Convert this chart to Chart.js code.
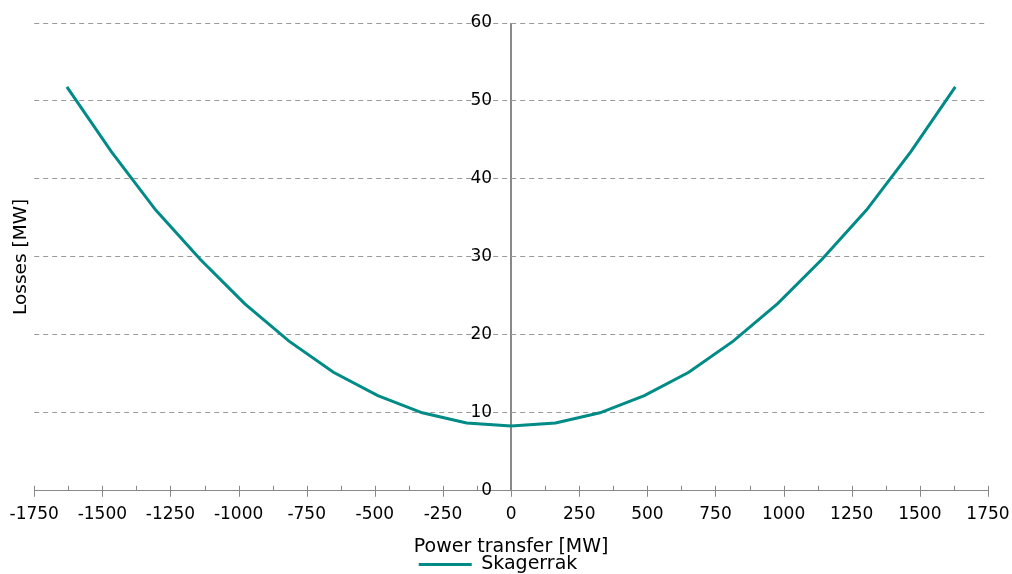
<!DOCTYPE html>
<html>
<head>
<meta charset="utf-8">
<script src="https://cdn.jsdelivr.net/npm/chart.js@4/dist/chart.umd.min.js"></script>
<style>
html,body{margin:0;padding:0;background:#fff;}
#wrap{width:1012px;height:574px;position:relative;}
</style>
</head>
<body>
<div id="wrap"><canvas id="c"></canvas></div>
<script>
// Data
const seriesName = 'Skagerrak';
const powerTransfer = [-1630, -1467, -1304, -1141, -978, -815, -652, -489, -326, -163, 0, 163, 326, 489, 652, 815, 978, 1141, 1304, 1467, 1630];
const losses = [51.8, 43.5, 36.0, 29.7, 24.0, 19.2, 15.2, 12.2, 10.0, 8.7, 8.3, 8.7, 10.0, 12.2, 15.2, 19.2, 24.0, 29.7, 36.0, 43.5, 51.8];
const xTicks = {min: -1750, max: 1750, step: 250, minorStep: 125};
const yTicks = {min: 0, max: 60, step: 10};
const xTitle = 'Power transfer [MW]';
const yTitle = 'Losses [MW]';

const FONT = "'DejaVu Sans', Verdana, sans-serif";
const TEAL = '#008b87';
const AXIS = '#898989';
const GRID = '#9a9a9a';

// Minor/major tick marks on the x axis, and y tick labels placed left of the
// central y axis (Chart.js ignores tick padding for axes positioned at a value).
const axisDecor = {
  id: 'axisDecor',
  afterDraw(chart) {
    const x = chart.scales.x, y = chart.scales.y;
    const ctx = chart.ctx;
    const yPix = y.getPixelForValue(0);
    const xPix = x.getPixelForValue(0);
    ctx.save();
    ctx.strokeStyle = AXIS;
    ctx.lineWidth = 1;
    for (let v = xTicks.min; v <= xTicks.max; v += xTicks.minorStep) {
      const px = Math.round(x.getPixelForValue(v)) + 0.5;
      const major = (v % xTicks.step) === 0;
      ctx.beginPath();
      ctx.moveTo(px, yPix - 5);
      ctx.lineTo(px, major ? yPix + 6 : yPix);
      ctx.stroke();
    }
    ctx.fillStyle = '#000';
    ctx.font = "17px " + FONT;
    ctx.textAlign = 'right';
    ctx.textBaseline = 'middle';
    y.ticks.forEach(t => {
      ctx.fillText(String(t.value), xPix - 19, y.getPixelForValue(t.value));
    });
    ctx.restore();
  }
};

new Chart(document.getElementById('c'), {
  type: 'line',
  data: {
    datasets: [{
      label: seriesName,
      data: powerTransfer.map((v, i) => ({x: v, y: losses[i]})),
      borderColor: TEAL,
      backgroundColor: TEAL,
      borderWidth: 3,
      pointRadius: 0,
      tension: 0,
      fill: false
    }]
  },
  options: {
    responsive: true,
    maintainAspectRatio: false,
    animation: false,
    layout: {padding: {top: 23, left: 8, right: 24, bottom: -10}},
    plugins: {
      tooltip: {enabled: false},
      legend: {
        position: 'bottom',
        labels: {
          font: {family: FONT, size: 19},
          color: '#000',
          usePointStyle: true,
          pointStyle: 'line',
          pointStyleWidth: 53,
          boxHeight: 3,
          padding: 0
        }
      }
    },
    scales: {
      x: {
        type: 'linear',
        min: xTicks.min,
        max: xTicks.max,
        ticks: {
          stepSize: xTicks.step,
          color: '#000',
          font: {family: FONT, size: 17},
          padding: 2,
          maxRotation: 0,
          autoSkip: false,
          callback: v => String(v)
        },
        grid: {
          drawTicks: true,
          tickLength: 12,
          tickColor: 'rgba(0,0,0,0)',
          color: c => (c.tick && c.tick.value === 0) ? AXIS : 'rgba(0,0,0,0)',
          lineWidth: c => (c.tick && c.tick.value === 0) ? 2 : 0
        },
        border: {display: true, color: AXIS, width: 1},
        title: {
          display: true,
          text: xTitle,
          color: '#000',
          font: {family: FONT, size: 19},
          padding: {top: 8, bottom: -3}
        }
      },
      y: {
        type: 'linear',
        position: {x: 0},
        min: yTicks.min,
        max: yTicks.max,
        ticks: {
          stepSize: yTicks.step,
          display: false
        },
        grid: {
          drawTicks: false,
          color: c => (c.tick && c.tick.value === 0) ? 'rgba(0,0,0,0)' : GRID,
          lineWidth: 1
        },
        border: {display: false, dash: [5, 4]}
      },
      yTitle: {
        type: 'linear',
        position: 'left',
        display: true,
        ticks: {display: false},
        grid: {display: false, drawTicks: false},
        border: {display: false},
        title: {
          display: true,
          text: yTitle,
          color: '#000',
          font: {family: FONT, size: 18.5},
          padding: {top: 2, bottom: 2}
        }
      }
    }
  },
  plugins: [axisDecor]
});
</script>
</body>
</html>
